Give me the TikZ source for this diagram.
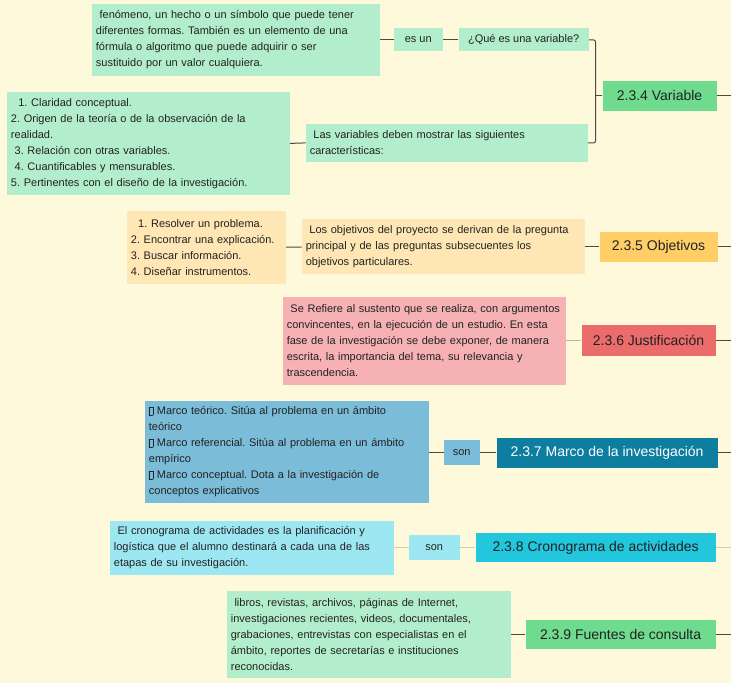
\documentclass[tikz,border=0pt]{standalone}
\usepackage{fontspec}
\setmainfont{Liberation Sans}
\usepackage{xcolor}
\definecolor{paper}{HTML}{FFF9DC}
\definecolor{mint}{HTML}{B3EECC}
\definecolor{leaf}{HTML}{6EDB8F}
\definecolor{peach}{HTML}{FFE7B5}
\definecolor{amber}{HTML}{FFCE66}
\definecolor{rose}{HTML}{F6B1B5}
\definecolor{coral}{HTML}{EC6B6B}
\definecolor{steel}{HTML}{7BBDD9}
\definecolor{teal}{HTML}{0E7EA0}
\definecolor{ice}{HTML}{9DE7F2}
\definecolor{cyan}{HTML}{22C6DD}
\definecolor{ink}{HTML}{222222}
\definecolor{wire}{HTML}{4A4A48}
\definecolor{wirel}{HTML}{B8B89E}
\definecolor{wiret}{HTML}{D8CAA2}
\usetikzlibrary{positioning,calc}
\frenchspacing
\newcommand{\ph}{{\setlength{\fboxsep}{0pt}\setlength{\fboxrule}{0.4pt}\fbox{\rule{0pt}{7pt}\rule{3.5pt}{0pt}}}}
\tikzset{
  note/.style={fill=#1,align=left,inner xsep=4pt,inner ysep=2pt,text=ink,
    font=\fontsize{11}{16}\selectfont},
  tag/.style={fill=#1,inner sep=0pt,text=ink,font=\fontsize{11}{14}\selectfont},
  ttl/.style={fill=#1,inner sep=0pt,text=ink,font=\fontsize{14}{17}\selectfont},
  link/.style={draw=wire,line width=1pt},
}

\begin{document}
\begin{tikzpicture}[x=1pt,y=-1pt]
  \fill[paper] (0,0) rectangle (731,683);
  \coordinate (edge) at (731,0);
  % 2.3.4 variable
  \node[note=mint,text width=280pt,minimum height=72pt] (def) at (236,40) {\ fenómeno, un hecho o un símbolo que puede tener\\diferentes formas. También es un elemento de una\\fórmula o algoritmo que puede adquirir o ser\\sustituido por un valor cualquiera.};
  \node[tag=mint,minimum width=49pt,minimum height=23pt] (esun) at (418.5,40) {es un};
  \node[tag=mint,minimum width=130pt,minimum height=23pt] (que) at (524,40) {¿Qué es una variable?};
  \node[ttl=leaf,minimum width=114pt,minimum height=30pt] (var) at (660,96) {2.3.4 Variable};
  \node[note=mint,text width=274pt,minimum height=38pt] (car) at (447,143) {\ Las variables deben mostrar las siguientes\\características:};
  \node[note=mint,text width=275pt,minimum height=103pt] (lst) at (148.5,143.5) {\ \ 1. Claridad conceptual.\\2. Origen de la teoría o de la observación de la\\realidad.\\\ 3. Relación con otras variables.\\\ 4. Cuantificables y mensurables.\\5. Pertinentes con el diseño de la investigación.};
  \coordinate (brk) at (596,96);
  \draw[link] (def) -- (esun);
  \draw[link] (esun) -- (que);
  \draw[link,rounded corners=2pt] (que.east) -| (brk) |- (car.east);
  \draw[link] (brk) -- (var.west);
  \draw[link] (lst.east) -- (car.west);
  \draw[link] (var.east) -- (var.east -| edge);
  % 2.3.5 objetivos
  \node[note=peach,text width=151pt,minimum height=73pt] (obl) at (206.5,247.5) {\ \ 1. Resolver un problema.\\2. Encontrar una explicación.\\3. Buscar información.\\4. Diseñar instrumentos.};
  \node[note=peach,text width=275pt,minimum height=55pt] (obt) at (443.5,247) {\ Los objetivos del proyecto se derivan de la pregunta\\principal y de las preguntas subsecuentes los\\objetivos particulares.};
  \node[ttl=amber,minimum width=118pt,minimum height=30pt] (obj) at (659,247) {2.3.5 Objetivos};
  \draw[link] (obl) -- (obt);
  \draw[link] (obt) -- (obj);
  \draw[link] (obj.east) -- (obj.east -| edge);
  % 2.3.6 justificacion
  \node[note=rose,text width=275pt,minimum height=88pt] (jut) at (424.5,341) {\ Se Refiere al sustento que se realiza, con argumentos\\convincentes, en la ejecución de un estudio. En esta\\fase de la investigación se debe exponer, de manera\\escrita, la importancia del tema, su relevancia y\\trascendencia.};
  \node[ttl=coral,minimum width=134pt,minimum height=31pt] (jus) at (649,341) {2.3.6 Justificación};
  \draw[link,wirel] (jut) -- (jus);
  \draw[link] (jus.east) -- (jus.east -| edge);
  % 2.3.7 marco
  \node[note=steel,text width=276pt,minimum height=102pt] (mat) at (287,452) {\ph\ Marco teórico. Sitúa al problema en un ámbito\\teórico\\\ph\ Marco referencial. Sitúa al problema en un ámbito\\empírico\\\ph\ Marco conceptual. Dota a la investigación de\\conceptos explicativos};
  \node[tag=steel,minimum width=36pt,minimum height=25pt] (son1) at (462,453) {son};
  \node[ttl=teal,text=white,minimum width=221pt,minimum height=30pt] (mar) at (607.5,453) {2.3.7 Marco de la investigación};
  \draw[link] (mat.east |- son1) -- (son1);
  \draw[link] (son1) -- (mar);
  \draw[link] (mar.east) -- (mar.east -| edge);
  % 2.3.8 cronograma
  \node[note=ice,text width=276pt,minimum height=54pt] (crt) at (252,548) {\ El cronograma de actividades es la planificación y\\logística que el alumno destinará a cada una de las\\etapas de su investigación.};
  \node[tag=ice,minimum width=51pt,minimum height=25pt] (son2) at (434.5,548) {son};
  \node[ttl=cyan,minimum width=240pt,minimum height=29pt] (cro) at (596,548) {2.3.8 Cronograma de actividades};
  \draw[link,wiret] (crt) -- (son2);
  \draw[link,wiret] (son2) -- (cro);
  \draw[link,wiret] (cro.east) -- (cro.east -| edge);
  % 2.3.9 fuentes
  \node[note=mint,text width=276pt,minimum height=87pt] (fut) at (369,634.5) {\ libros, revistas, archivos, páginas de Internet,\\investigaciones recientes, videos, documentales,\\grabaciones, entrevistas con especialistas en el\\ámbito, reportes de secretarías e instituciones\\reconocidas.};
  \node[ttl=leaf,minimum width=190pt,minimum height=29pt] (fue) at (621,634.5) {2.3.9 Fuentes de consulta};
  \draw[link] (fut) -- (fue);
  \draw[link] (fue.east) -- (fue.east -| edge);
\end{tikzpicture}
\end{document}
